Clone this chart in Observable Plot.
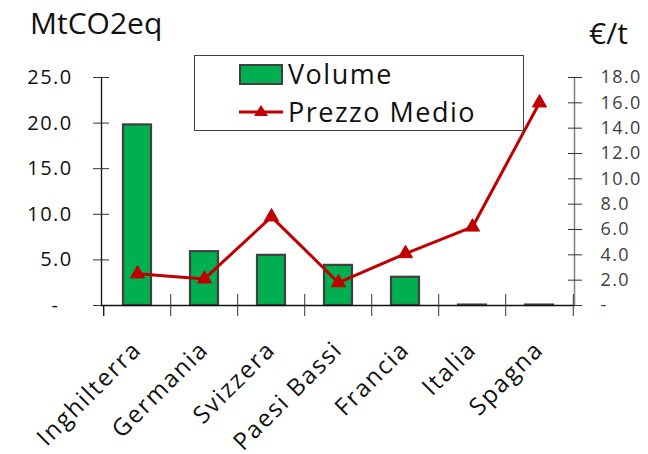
<!DOCTYPE html>
<html>
<head>
<meta charset="utf-8">
<script src="https://cdn.jsdelivr.net/npm/d3@7"></script>
<script src="https://cdn.jsdelivr.net/npm/@observablehq/plot@0.6"></script>
<style>
  html, body { margin: 0; padding: 0; background: #fff; }
  #wrap { position: relative; width: 648px; height: 454px; overflow: hidden; font-family: "Open Sans", sans-serif; }
  #wrap svg { position: absolute; left: 0; top: 0; }
  .title { position: absolute; line-height: 1; color: #111; white-space: nowrap; }
  #legend { position: absolute; left: 194px; top: 55px; width: 328px; height: 74px; border: 1px solid #404040; background: #fff; box-sizing: content-box; }
  .lg-text { position: absolute; font-size: 27px; line-height: 1; letter-spacing: 1.5px; color: #111; white-space: nowrap; }
  g[aria-label="y-axis tick label"] text { letter-spacing: 1.4px; }
  g[aria-label="x-axis tick label"] text { letter-spacing: 1.8px; }
</style>
</head>
<body>
<div id="wrap"></div>
<script>
// ---- data ----
const categories = ["Inghilterra", "Germania", "Svizzera", "Paesi Bassi", "Francia", "Italia", "Spagna"];
const volume = [19.8, 5.9, 5.5, 4.4, 3.1, 0.05, 0.05];      // MtCO2eq (left axis)
const prezzo = [2.5, 2.1, 7.0, 1.8, 4.1, 6.2, 16.0];        // €/t (right axis)
const leftTicks = [0, 5, 10, 15, 20, 25];
const rightTicks = [0, 2, 4, 6, 8, 10, 12, 14, 16, 18];
const leftMax = 25, rightMax = 18;
const seriesNames = ["Volume", "Prezzo Medio"];
const titleLeft = "MtCO2eq", titleRight = "€/t";

// ---- build ----
const k = leftMax / rightMax;
const rows = categories.map((c, i) => ({cat: c, vol: volume[i], price: prezzo[i], priceScaled: prezzo[i] * k}));

const W = 648, H = 454, mL = 101, mR = 74, mT = 77, mB = 149;
const step = (W - mL - mR) / categories.length;
const fmt = v => v === 0 ? "-\u00a0\u00a0" : v.toFixed(1);
const fmtR = v => v === 0 ? "-" : v.toFixed(1);
const green = "#00B050", red = "#C00000", edge = "#404040";

const chart = Plot.plot({
  width: W, height: H,
  marginLeft: mL, marginRight: mR, marginTop: mT, marginBottom: mB,
  style: {fontFamily: "Open Sans, sans-serif", background: "transparent", overflow: "visible"},
  x: {type: "band", domain: categories, paddingInner: 0.586, paddingOuter: 0.293, axis: null},
  y: {domain: [0, leftMax], axis: null},
  marks: [
    // left axis
    Plot.frame({anchor: "left", stroke: "#111", strokeWidth: 1.3}),
    Plot.axisY(leftTicks, {anchor: "left", tickSize: 16, dx: 8, fill: "none", stroke: "#333", label: null}),
    Plot.axisY(leftTicks, {anchor: "left", tickSize: 0, tickPadding: 29, fontSize: 20, fill: "#111", tickFormat: fmt, label: null}),
    // right axis
    Plot.frame({anchor: "right", stroke: "#7f7f7f", strokeWidth: 1.5}),
    Plot.axisY(rightTicks.map(v => v * k), {anchor: "right", tickSize: 14, dx: -7, fill: "none", stroke: "#333", label: null}),
    Plot.axisY(rightTicks.map(v => v * k), {anchor: "right", tickSize: 0, tickPadding: 26, fontSize: 18, fill: "#404040", label: null,
      tickFormat: d => fmtR(Math.round(d / k))}),
    // bars
    Plot.barY(rows, {x: "cat", y: "vol", fill: green, stroke: edge, strokeWidth: 2.2}),
    // x axis line and category ticks (at band boundaries)
    Plot.ruleY([0], {stroke: "#111", strokeWidth: 1.3}),
    Plot.axisX(categories.slice(1), {anchor: "bottom", tickSize: 22, dy: -11, dx: -step / 2, fill: "none", stroke: "#333", label: null}),
    Plot.axisX(categories.slice(-1), {anchor: "bottom", tickSize: 22, dy: -11, dx: step / 2, fill: "none", stroke: "#333", label: null}),
    Plot.axisX(categories.slice(0, 1), {anchor: "bottom", tickSize: 11, dx: -step / 2, fill: "none", stroke: "#111", strokeWidth: 1.3, label: null}),
    Plot.axisX(categories, {anchor: "bottom", tickSize: 0, tickPadding: 40, tickRotate: -45, textAnchor: "end",
      fontSize: 24, fill: "#111", label: null}),
    // price line
    Plot.line(rows, {x: "cat", y: "priceScaled", stroke: red, strokeWidth: 3}),
    Plot.dot(rows, {x: "cat", y: "priceScaled", symbol: "triangle", r: 5.3, fill: red, stroke: red, strokeWidth: 1})
  ]
});

const wrap = document.getElementById("wrap");
wrap.appendChild(chart);

function addTitle(text, left, baseline, size) {
  const d = document.createElement("div");
  d.className = "title";
  d.textContent = text;
  d.style.fontSize = size + "px";
  d.style.left = left + "px";
  d.style.top = (baseline - 0.888 * size) + "px";
  wrap.appendChild(d);
}
addTitle(titleLeft, 30, 35, 30);
addTitle(titleRight, 589, 45, 30);

// legend
const lg = document.createElement("div");
lg.id = "legend";
lg.innerHTML = `
  <div style="position:absolute;left:44px;top:8px;width:40px;height:17px;background:${green};border:2px solid ${edge};"></div>
  <div class="lg-text" style="left:93px;top:${28 - 0.888 * 27}px">${seriesNames[0]}</div>
  <svg style="position:absolute;left:44px;top:46px" width="44" height="20">
    <line x1="0" y1="10" x2="44" y2="10" stroke="${red}" stroke-width="3"/>
    <path d="M22,3 L29,14 L15,14 Z" fill="${red}"/>
  </svg>
  <div class="lg-text" style="left:93px;top:${66 - 0.888 * 27}px">${seriesNames[1]}</div>`;
wrap.appendChild(lg);
</script>
</body>
</html>
